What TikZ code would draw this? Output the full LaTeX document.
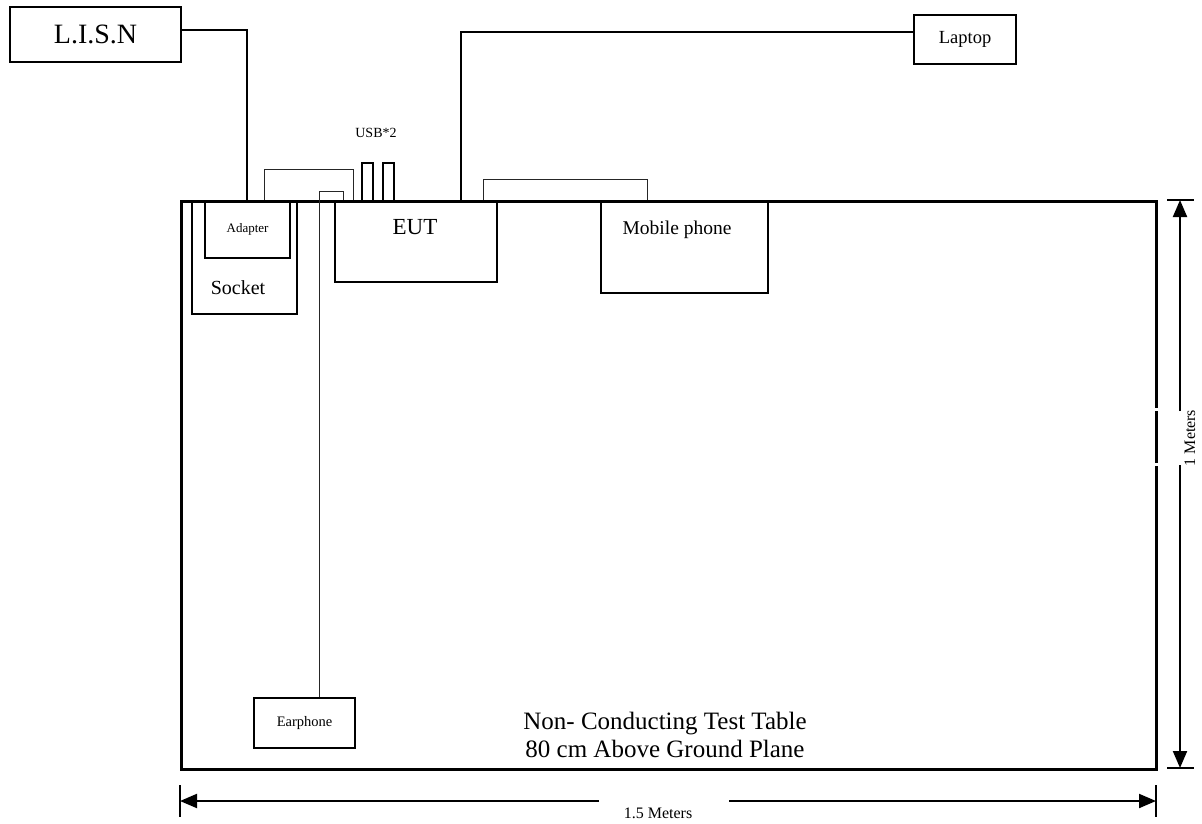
\documentclass[tikz,border=0pt]{standalone}
\usepackage{fontspec}
\setmainfont{Liberation Serif}
\usetikzlibrary{arrows.meta}
\newcommand{\fs}[1]{\fontsize{#1}{#1}\selectfont}
\begin{document}
\begin{tikzpicture}[x=1pt,y=-1pt,
  bigbox/.style={draw, line width=2.2pt, inner sep=0pt, anchor=north west},
  tablebox/.style={draw, line width=2.8pt, inner sep=0pt, anchor=north west},
  wire/.style={line width=1.8pt},
  thinwire/.style={line width=0.9pt, draw=black!85},
  usbbox/.style={draw, line width=1.6pt, inner sep=0pt, anchor=north west, minimum width=11pt, minimum height=38pt},
  dimarrow/.style={line width=2pt, -{Triangle[length=17pt,width=14pt]}},
  dimtick/.style={line width=1.6pt},
  lbl/.style={inner sep=0pt}]
\useasboundingbox (0,0) rectangle (1202,824);

% table
\node[tablebox, minimum width=975pt, minimum height=568pt] (table) at (180,200) {};
\fill[white] (1150,408) rectangle (1160,411);
\fill[white] (1150,463) rectangle (1160,466);
\node[lbl, align=center, font=\fs{25}] (tabletext) at (665,735) {Non- Conducting Test Table\\[3pt]80 cm Above Ground Plane};

% devices
\node[bigbox, minimum width=171pt, minimum height=55pt, font=\fs{28}] (lisn) at (9,6) {L.I.S.N};
\node[bigbox, minimum width=105pt, minimum height=113pt] (socket) at (191,200) {};
\node[lbl, font=\fs{20}] (sockettext) at (238,288) {Socket};
\node[bigbox, minimum width=85pt, minimum height=57pt, font=\fs{13}] (adapter) at (204,200) {Adapter};
\node[bigbox, minimum width=162pt, minimum height=81pt] (eut) at (334,200) {};
\node[lbl, font=\fs{23}] (euttext) at (415,227) {EUT};
\node[usbbox] (usba) at (361,162) {};
\node[usbbox] (usbb) at (382,162) {};
\node[lbl, font=\fs{14}] (usbtext) at (376,133) {USB*2};
\node[bigbox, minimum width=167pt, minimum height=92pt] (phone) at (600,200) {};
\node[lbl, font=\fs{19.5}] (phonetext) at (677,230) {Mobile phone};
\node[bigbox, minimum width=102pt, minimum height=49pt, font=\fs{18.5}] (laptop) at (913,14) {Laptop};
\node[bigbox, minimum width=101pt, minimum height=50pt, font=\fs{14.5}] (ear) at (253,697) {Earphone};

% cable end points
\coordinate (lisnin) at (247,200);
\coordinate (adout) at (264,200);
\coordinate (eutin) at (353,200);
\coordinate (earin) at (319,697);
\coordinate (euteear) at (343,200);
\coordinate (eutlap) at (461,200);
\coordinate (eutph) at (483,200);
\coordinate (phin) at (647,200);

% cables
\draw[wire] (lisn.east |- 0,30) -| (lisnin);
\draw[thinwire] (adout) |- (353,169) -- (eutin);
\draw[thinwire] (earin) |- (343,191) -- (euteear);
\draw[wire] (eutlap) |- (laptop.west |- 0,32);
\draw[thinwire] (eutph) |- (647,179) -- (phin);

% vertical dimension
\coordinate (vtop) at (1180,200);
\coordinate (vbot) at (1180,768);
\draw[dimtick] (1167,200) -- (1194,200);
\draw[dimtick] (1167,768) -- (1194,768);
\draw[dimarrow] (1180,411) -- (vtop);
\draw[dimarrow] (1180,465) -- (vbot);
\node[lbl, rotate=90, font=\fs{16}] (vlabel) at (1190,438) {1 Meters};

% horizontal dimension
\coordinate (hleft) at (180,801);
\coordinate (hright) at (1156,801);
\draw[dimtick] (180,785) -- (180,817);
\draw[dimtick] (1156,785) -- (1156,817);
\draw[dimarrow] (599,801) -- (hleft);
\draw[dimarrow] (729,801) -- (hright);
\node[lbl, font=\fs{16}] (hlabel) at (658,813) {1.5 Meters};
\end{tikzpicture}
\end{document}
